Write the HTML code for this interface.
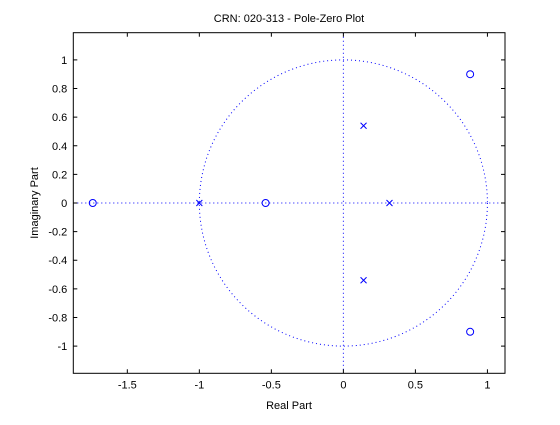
<!DOCTYPE html>
<html><head><style>
body{margin:0;background:#fff;}
svg text{font-family:"Liberation Sans",sans-serif;font-size:11px;fill:#000;}
</style></head><body>
<svg width="560" height="420" id="c">
<rect width="560" height="420" fill="#fff"/>
<text x="289" y="22" text-anchor="middle">CRN: 020-313 - Pole-Zero Plot</text>
<text x="289" y="409" text-anchor="middle">Real Part</text>
<text transform="translate(38,203) rotate(-90)" text-anchor="middle">Imaginary Part</text>
<g id="g"></g>
</svg>
<script>
const xTicks=[-1.5,-1,-0.5,0,0.5,1];
const xTickLabels=["-1.5","-1","-0.5","0","0.5","1"];
const yTicks=[1,0.8,0.6,0.4,0.2,0,-0.2,-0.4,-0.6,-0.8,-1];
const yTickLabels=["1","0.8","0.6","0.4","0.2","0","-0.2","-0.4","-0.6","-0.8","-1"];
const zerosRe=[-1.74,-0.54,0.88,0.88];
const zerosIm=[0,0,0.9,-0.9];
const polesRe=[-1,0.32,0.14,0.14];
const polesIm=[0,0,0.54,-0.54];
const L=73.3,R=505,T=32.7,B=373.3,xmin=-1.875,xmax=1.122,ymin=-1.19,ymax=1.19;
const sx=v=>L+(v-xmin)/(xmax-xmin)*(R-L);
const sy=v=>B-(v-ymin)/(ymax-ymin)*(B-T);
const NS="http://www.w3.org/2000/svg",g=document.getElementById('g');
function mk(t,a){const e=document.createElementNS(NS,t);for(const k in a)e.setAttribute(k,a[k]);g.appendChild(e);return e;}
let e;
e=mk('ellipse',{cx:sx(0),cy:sy(0),rx:sx(1)-sx(0),ry:sy(0)-sy(1),fill:'none',stroke:'#00f','stroke-dasharray':'1 3'});


e=mk('line',{x1:L,x2:R,y1:sy(0),y2:sy(0),stroke:'#00f','stroke-dasharray':'1 3'});


e=mk('line',{x1:sx(0),x2:sx(0),y1:T,y2:B,stroke:'#00f','stroke-dasharray':'1 3'});


e=mk('rect',{x:L,y:T,width:R-L,height:B-T,fill:'none',stroke:'#000'});


xTicks.forEach((v,i)=>{const x=sx(v);
mk('line',{x1:x,x2:x,y1:B,y2:B-4,stroke:'#000'});mk('line',{x1:x,x2:x,y1:T,y2:T+4,stroke:'#000'});
e=mk('text',{x:x,y:B+15,'text-anchor':'middle'});e.textContent=xTickLabels[i];

});
yTicks.forEach((v,i)=>{const y=sy(v);
mk('line',{x1:L,x2:L+4,y1:y,y2:y,stroke:'#000'});mk('line',{x1:R,x2:R-4,y1:y,y2:y,stroke:'#000'});
e=mk('text',{x:L-6,y:y+4,'text-anchor':'end'});e.textContent=yTickLabels[i];

});
zerosRe.forEach((v,i)=>{e=mk('circle',{cx:sx(v),cy:sy(zerosIm[i]),r:3.5,fill:'none',stroke:'#00f'});

});
polesRe.forEach((v,i)=>{const x=sx(v),y=sy(polesIm[i]);
e=mk('path',{d:`M${x-3},${y-3}L${x+3},${y+3}M${x-3},${y+3}L${x+3},${y-3}`,stroke:'#00f',fill:'none'});

});
</script>
</body></html>
